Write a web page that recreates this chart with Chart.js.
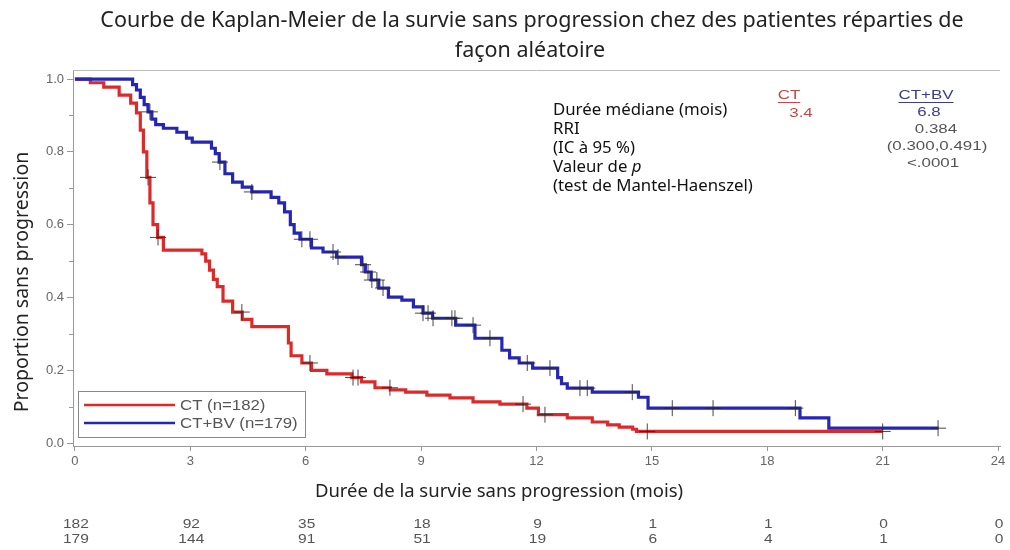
<!DOCTYPE html>
<html lang="fr">
<head>
<meta charset="utf-8">
<script src="https://cdn.jsdelivr.net/npm/chart.js@4.4.1/dist/chart.umd.min.js"></script>
<style>
  html, body { margin: 0; padding: 0; background: #fff; }
</style>
</head>
<body>
<canvas id="km" width="1010" height="550"></canvas>
<script>
// --- DONNEES ---
const xTicks = [0, 3, 6, 9, 12, 15, 18, 21, 24];
const yTicks = [0, 0.2, 0.4, 0.6, 0.8, 1.0];

// CT : temps (mois) et proportion sans progression apres chaque evenement
const ctTimes = [0, 0.4, 0.75, 1.15, 1.45, 1.6, 1.7, 1.78, 1.87, 1.95, 2.03, 2.15, 2.3, 3.3, 3.4, 3.5, 3.6, 3.7, 3.85,
  4.1, 4.35, 4.6, 5.55, 5.62, 5.9, 6.15, 6.55, 7.2, 7.45, 7.8, 8.2, 8.6, 9.15, 9.75, 10.35, 11.05, 11.75, 12.05,
  12.8, 13.45, 13.85, 14.15, 14.5, 14.6, 21.0];
const ctSurv = [1, 0.99, 0.978, 0.956, 0.934, 0.907, 0.86, 0.8, 0.73, 0.66, 0.6, 0.565, 0.53, 0.52, 0.5, 0.475, 0.45, 0.43, 0.39,
  0.36, 0.34, 0.32, 0.275, 0.24, 0.22, 0.2, 0.19, 0.18, 0.168, 0.152, 0.146, 0.14, 0.132, 0.124, 0.113, 0.107, 0.096, 0.078,
  0.069, 0.058, 0.05, 0.044, 0.038, 0.032, 0.032];

// CT+BV
const bvTimes = [0, 1.5, 1.6, 1.7, 1.8, 1.9, 2.0, 2.1, 2.3, 2.65, 2.9, 3.05, 3.55, 3.65, 3.75, 3.9, 4.1, 4.35, 4.6, 5.1,
  5.3, 5.45, 5.6, 5.7, 5.85, 6.15, 6.45, 6.8, 7.45, 7.55, 7.7, 7.9, 8.15, 8.5, 8.8, 9.05, 9.3, 9.9, 10.4, 11.1,
  11.3, 11.55, 11.9, 12.55, 12.65, 12.8, 13.45, 14.65, 14.9, 18.85, 19.6, 22.45];
const bvSurv = [1, 0.985, 0.97, 0.95, 0.93, 0.91, 0.89, 0.875, 0.865, 0.854, 0.838, 0.827, 0.81, 0.795, 0.772, 0.74, 0.717, 0.703, 0.69, 0.675,
  0.66, 0.635, 0.6, 0.577, 0.56, 0.536, 0.525, 0.511, 0.49, 0.47, 0.448, 0.426, 0.401, 0.393, 0.374, 0.357, 0.343, 0.324, 0.288, 0.255,
  0.234, 0.22, 0.206, 0.18, 0.163, 0.151, 0.14, 0.126, 0.096, 0.069, 0.041, 0.041];

// patientes censurees (mois)
const ctCensor = [1.9, 2.16, 4.34, 6.11, 7.23, 7.36, 8.19, 11.65, 12.22, 14.88, 21.0];
const bvCensor = [1.95, 3.77, 4.6, 5.9, 6.11, 6.71, 6.84, 7.49, 7.62, 7.72, 7.85, 8.01, 9.05, 9.18, 9.31, 9.8, 9.88,
  10.35, 10.79, 11.76, 12.35, 13.13, 13.32, 14.49, 15.53, 16.59, 18.73, 22.44];

// nombre de patientes a risque
const ctAtRisk = [182, 92, 35, 18, 9, 1, 1, 0, 0];
const bvAtRisk = [179, 144, 91, 51, 19, 6, 4, 1, 0];

const titleLines = ['Courbe de Kaplan-Meier de la survie sans progression chez des patientes réparties de', 'façon aléatoire'];
const xTitle = 'Durée de la survie sans progression (mois)';
const yTitle = 'Proportion sans progression';
const legendLabels = ['CT (n=182)', 'CT+BV (n=179)'];
const statLabels = ['Durée médiane (mois)', 'RRI', '(IC à 95 %)', 'Valeur de ', '(test de Mantel-Haenszel)'];
const ctStats = ['CT', '3.4'];
const bvStats = ['CT+BV', '6.8', '0.384', '(0.300,0.491)', '<.0001'];

const RED = '#dc2a2a';
const BLUE = '#2626b4';
const SANS = '"Liberation Sans", Arial, sans-serif';
const TEXTE = '"Noto Sans", "Open Sans", sans-serif';

// --- HELPERS ---
function toPoints(times, surv) {
  return times.map((t, i) => ({ x: t, y: surv[i] }));
}

// valeur de la courbe en escalier au temps t
function survAt(times, surv, t) {
  let s = surv[0];
  for (let i = 0; i < times.length; i++) {
    if (times[i] <= t) s = surv[i];
  }
  return s;
}

function censorPoints(list, times, surv) {
  return list.map(t => ({ x: t, y: survAt(times, surv, t) }));
}

// texte SAS un peu etire horizontalement (comme sur la figure d'origine)
function stretchedText(ctx, txt, x, y, sx) {
  ctx.save();
  ctx.translate(x, y);
  ctx.scale(sx, 1);
  ctx.fillText(txt, 0, 0);
  ctx.restore();
  return ctx.measureText(txt).width * sx;
}

// --- DECOR : titres, legende, stats, table des patientes a risque ---
const decorPlugin = {
  id: 'decor',
  afterDraw(chart) {
    const ctx = chart.ctx;
    const area = chart.chartArea;
    const xs = chart.scales.x;
    const ys = chart.scales.y;
    ctx.save();

    // cadre du haut
    ctx.strokeStyle = '#bbb';
    ctx.lineWidth = 1;
    ctx.beginPath();
    ctx.moveTo(area.left, area.top + 0.5);
    ctx.lineTo(area.right, area.top + 0.5);
    ctx.stroke();

    // graduations secondaires de l'axe y
    ctx.strokeStyle = '#999';
    for (let v = 0.1; v < 1; v += 0.2) {
      const py = Math.round(ys.getPixelForValue(v)) + 0.5;
      ctx.beginPath();
      ctx.moveTo(area.left - 4, py);
      ctx.lineTo(area.left, py);
      ctx.stroke();
    }

    // titre
    ctx.fillStyle = '#222';
    ctx.textAlign = 'center';
    ctx.textBaseline = 'middle';
    ctx.font = '21.5px ' + TEXTE;
    ctx.fillText(titleLines[0], 532, 21);
    ctx.fillText(titleLines[1], 530, 51);

    // titre axe x
    ctx.font = '18.5px ' + TEXTE;
    ctx.fillText(xTitle, 499, 492);

    // titre axe y
    ctx.save();
    ctx.translate(22, 282);
    ctx.rotate(-Math.PI / 2);
    ctx.font = '19.5px ' + TEXTE;
    ctx.fillText(yTitle, 0, 0);
    ctx.restore();

    // legende
    ctx.strokeStyle = '#888';
    ctx.lineWidth = 1;
    ctx.strokeRect(78.5, 391.5, 227, 46);
    const legColors = [RED, BLUE];
    ctx.font = '14px ' + SANS;
    ctx.textAlign = 'left';
    legendLabels.forEach((lab, i) => {
      const py = 405 + i * 18;
      ctx.strokeStyle = legColors[i];
      ctx.lineWidth = 2.5;
      ctx.beginPath();
      ctx.moveTo(84, py);
      ctx.lineTo(175, py);
      ctx.stroke();
      ctx.fillStyle = '#555';
      stretchedText(ctx, lab, 180, py + 1, 1.2);
    });

    // bloc statistique
    ctx.fillStyle = '#111';
    ctx.font = '16.8px ' + TEXTE;
    statLabels.forEach((lab, i) => {
      const py = 110 + i * 19;
      ctx.fillText(lab, 553, py);
      if (i === 3) {
        const w = ctx.measureText(lab).width;
        ctx.font = 'italic 16.8px ' + TEXTE;
        ctx.fillText('p', 553 + w, py);
        ctx.font = '16.8px ' + TEXTE;
      }
    });

    ctx.textAlign = 'center';
    ctx.font = '13px ' + SANS;
    function underlined(txt, cx, cy, color) {
      ctx.fillStyle = color;
      const w = stretchedText(ctx, txt, cx, cy, 1.3);
      ctx.strokeStyle = color;
      ctx.lineWidth = 1;
      ctx.beginPath();
      ctx.moveTo(cx - w / 2, cy + 7.5);
      ctx.lineTo(cx + w / 2, cy + 7.5);
      ctx.stroke();
    }
    underlined(ctStats[0], 789, 95, '#c84646');
    ctx.fillStyle = '#c84646';
    stretchedText(ctx, ctStats[1], 801, 113, 1.3);

    underlined(bvStats[0], 926, 95, '#3c3c96');
    ctx.fillStyle = '#3c3c96';
    stretchedText(ctx, bvStats[1], 929, 112, 1.3);
    ctx.fillStyle = '#555';
    stretchedText(ctx, bvStats[2], 936, 129, 1.3);
    stretchedText(ctx, bvStats[3], 937, 146, 1.3);
    stretchedText(ctx, bvStats[4], 933, 163, 1.3);

    // patientes a risque
    ctx.fillStyle = '#555';
    ctx.font = '13.5px ' + SANS;
    xTicks.forEach((t, i) => {
      const px = xs.getPixelForValue(t);
      stretchedText(ctx, String(ctAtRisk[i]), px + 1, 524, 1.15);
      stretchedText(ctx, String(bvAtRisk[i]), px + 1, 539, 1.15);
    });

    ctx.restore();
  }
};

// --- GRAPHIQUE ---
const ctx = document.getElementById('km').getContext('2d');
new Chart(ctx, {
  type: 'line',
  data: {
    datasets: [
      {
        label: 'CT censure',
        data: censorPoints(ctCensor, ctTimes, ctSurv),
        showLine: false,
        pointStyle: 'cross',
        pointRadius: 8,
        pointBorderWidth: 1,
        pointBorderColor: 'rgba(40,40,40,0.85)',
        order: 0
      },
      {
        label: 'CT+BV censure',
        data: censorPoints(bvCensor, bvTimes, bvSurv),
        showLine: false,
        pointStyle: 'cross',
        pointRadius: 8,
        pointBorderWidth: 1,
        pointBorderColor: 'rgba(40,40,40,0.85)',
        order: 0
      },
      {
        label: legendLabels[1],
        data: toPoints(bvTimes, bvSurv),
        stepped: 'before',
        borderColor: BLUE,
        borderWidth: 3.2,
        pointRadius: 0,
        fill: false,
        order: 1
      },
      {
        label: legendLabels[0],
        data: toPoints(ctTimes, ctSurv),
        stepped: 'before',
        borderColor: RED,
        borderWidth: 3.2,
        pointRadius: 0,
        fill: false,
        order: 2
      }
    ]
  },
  options: {
    responsive: false,
    animation: false,
    devicePixelRatio: 1,
    layout: { padding: { top: 70, right: 10, left: 0, bottom: 0 } },
    plugins: {
      legend: { display: false },
      title: { display: false },
      tooltip: { enabled: false }
    },
    scales: {
      x: {
        type: 'linear',
        min: -0.05,
        max: 24.05,
        afterBuildTicks: scale => { scale.ticks = xTicks.map(v => ({ value: v })); },
        afterFit: scale => { scale.height = 104; },
        grid: { drawOnChartArea: false, drawTicks: true, tickLength: 5, color: '#999' },
        border: { display: true, color: '#999' },
        ticks: { color: '#666', font: { family: SANS, size: 13 }, padding: 3, maxRotation: 0 }
      },
      y: {
        type: 'linear',
        min: -0.008,
        max: 1.025,
        afterBuildTicks: scale => { scale.ticks = yTicks.map(v => ({ value: v })); },
        afterFit: scale => { scale.width = 73; },
        grid: { drawOnChartArea: false, drawTicks: true, tickLength: 6, color: '#999' },
        border: { display: true, color: '#999' },
        ticks: { color: '#666', font: { family: SANS, size: 13 }, padding: 3, callback: v => v.toFixed(1) }
      }
    }
  },
  plugins: [decorPlugin]
});
</script>
</body>
</html>
